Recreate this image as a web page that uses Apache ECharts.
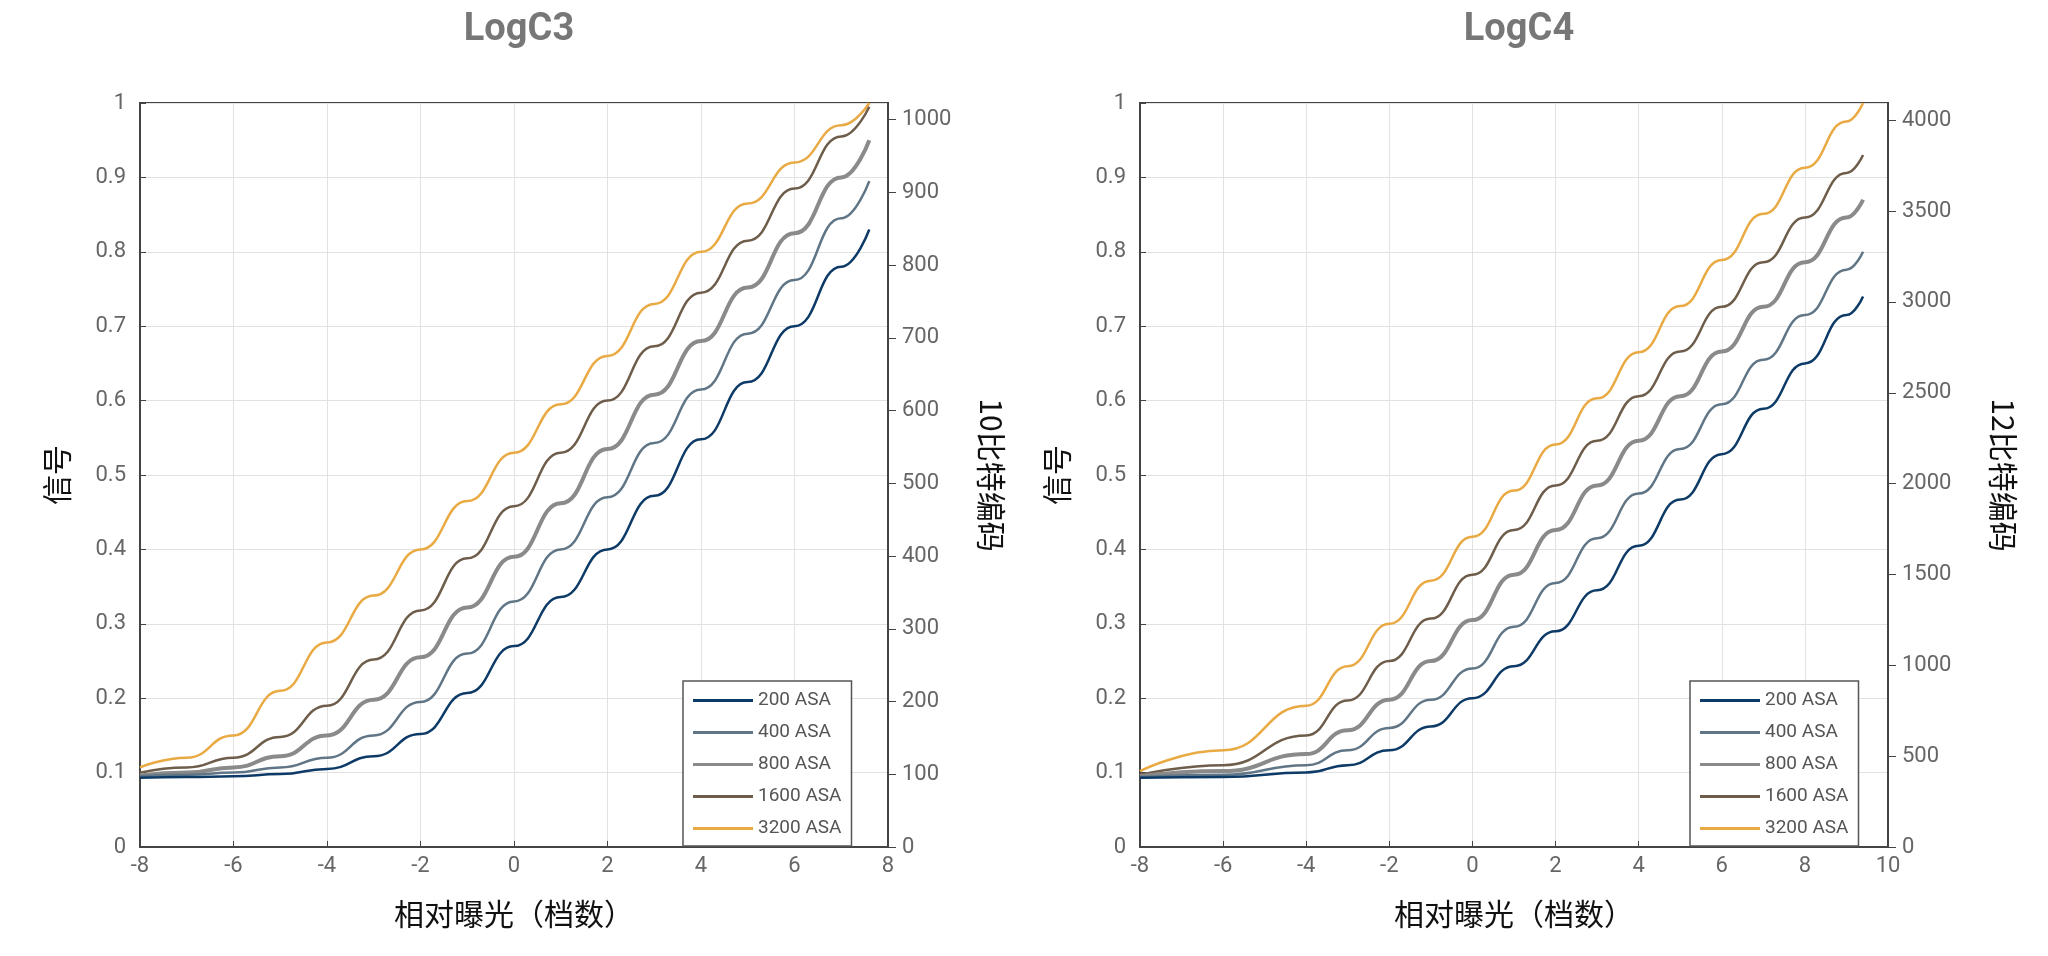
<!DOCTYPE html>
<html>
<head>
<meta charset="utf-8">
<script src="https://cdn.jsdelivr.net/npm/echarts@6/dist/echarts.min.js"></script>
<style>html,body{margin:0;padding:0;background:#fff}#c{width:2048px;height:956px}</style>
</head>
<body>
<div id="c"></div>
<script>
var names = ['200 ASA', '400 ASA', '800 ASA', '1600 ASA', '3200 ASA'];
var colors = ['#0d3a66', '#607686', '#8a8a8a', '#6f5d4b', '#e9aa44'];
var widths = [2.5, 2.5, 4, 2.5, 2.5];

// LogC3: exposure stops vs signal
var c3x = [-8, -7, -6, -5, -4, -3, -2, -1, 0, 1, 2, 3, 4, 5, 6, 7, 7.6];
var c3_200 = [0.093, 0.094, 0.095, 0.098, 0.105, 0.122, 0.152, 0.207, 0.27, 0.336, 0.40, 0.472, 0.548, 0.625, 0.70, 0.78, 0.83];
var c3_400 = [0.095, 0.097, 0.100, 0.107, 0.120, 0.150, 0.195, 0.26, 0.33, 0.40, 0.47, 0.543, 0.615, 0.69, 0.762, 0.845, 0.895];
var c3_800 = [0.096, 0.100, 0.107, 0.122, 0.150, 0.198, 0.255, 0.322, 0.39, 0.462, 0.535, 0.608, 0.68, 0.752, 0.825, 0.90, 0.95];
var c3_1600 = [0.100, 0.107, 0.120, 0.148, 0.190, 0.252, 0.318, 0.388, 0.458, 0.53, 0.60, 0.673, 0.745, 0.815, 0.885, 0.955, 0.995];
var c3_3200 = [0.107, 0.120, 0.150, 0.210, 0.275, 0.338, 0.400, 0.465, 0.530, 0.595, 0.660, 0.730, 0.800, 0.865, 0.920, 0.970, 1.0];

// LogC4
var c4x = [-8, -6, -4, -3, -2, -1, 0, 1, 2, 3, 4, 5, 6, 7, 8, 9, 9.4];
var c4_200 = [0.093, 0.094, 0.100, 0.110, 0.130, 0.162, 0.200, 0.243, 0.290, 0.345, 0.405, 0.467, 0.528, 0.589, 0.65, 0.715, 0.74];
var c4_400 = [0.094, 0.097, 0.110, 0.130, 0.160, 0.198, 0.240, 0.296, 0.355, 0.415, 0.475, 0.535, 0.595, 0.655, 0.715, 0.776, 0.80];
var c4_800 = [0.095, 0.102, 0.125, 0.157, 0.198, 0.250, 0.305, 0.366, 0.426, 0.486, 0.546, 0.606, 0.666, 0.726, 0.786, 0.846, 0.87];
var c4_1600 = [0.097, 0.110, 0.150, 0.197, 0.250, 0.307, 0.366, 0.426, 0.486, 0.546, 0.606, 0.666, 0.726, 0.786, 0.846, 0.906, 0.93];
var c4_3200 = [0.102, 0.130, 0.190, 0.243, 0.300, 0.358, 0.417, 0.479, 0.541, 0.603, 0.665, 0.727, 0.789, 0.851, 0.913, 0.975, 1.0];

var c3Data = [c3_200, c3_400, c3_800, c3_1600, c3_3200];
var c4Data = [c4_200, c4_400, c4_800, c4_1600, c4_3200];

var labelStyle = { color: '#666', fontSize: 22, fontFamily: 'Roboto' };
var nameStyle = { color: '#111', fontSize: 30, fontFamily: 'Noto Sans CJK SC' };

function pairs(xs, ys) {
    var out = [];
    for (var i = 0; i < xs.length; i++) out.push([xs[i], ys[i]]);
    return out;
}

var series = [];
for (var i = 0; i < 5; i++) {
    series.push({ name: names[i], type: 'line', xAxisIndex: 0, yAxisIndex: 0, smooth: true, smoothMonotone: 'x', symbol: 'none',
        lineStyle: { color: colors[i], width: widths[i] }, itemStyle: { color: colors[i] }, data: pairs(c3x, c3Data[i]), z: 10 - i });
    series.push({ name: names[i], type: 'line', xAxisIndex: 1, yAxisIndex: 2, smooth: true, smoothMonotone: 'x', symbol: 'none',
        lineStyle: { color: colors[i], width: widths[i] }, itemStyle: { color: colors[i] }, data: pairs(c4x, c4Data[i]), z: 10 - i });
}

function xAx(idx, max) {
    return { type: 'value', gridIndex: idx, min: -8, max: max, interval: 2,
        name: '相对曝光（档数）', nameLocation: 'middle', nameGap: 52, nameTextStyle: nameStyle,
        axisLine: { show: true, onZero: false, lineStyle: { color: '#444', width: 2 } },
        axisTick: { inside: true, length: 6, lineStyle: { color: '#444' } },
        axisLabel: labelStyle, splitLine: { lineStyle: { color: '#e2e2e2' } } };
}
function yLeft(idx) {
    return { type: 'value', gridIndex: idx, min: 0, max: 1, interval: 0.1, position: 'left',
        name: '信号', nameLocation: 'middle', nameGap: 68, nameRotate: 90, nameTextStyle: nameStyle,
        axisLine: { show: true, onZero: false, lineStyle: { color: '#444', width: 2 } },
        axisTick: { show: true, inside: true, length: 6, lineStyle: { color: '#444' } },
        axisLabel: Object.assign({ margin: 14 }, labelStyle), splitLine: { lineStyle: { color: '#e2e2e2' } } };
}
function yRight(idx, max, interval, nm, gap) {
    return { type: 'value', gridIndex: idx, min: 0, max: max, interval: interval, position: 'right',
        name: nm, nameLocation: 'middle', nameGap: gap, nameRotate: -90, nameTextStyle: nameStyle,
        axisLine: { show: true, onZero: false, lineStyle: { color: '#444', width: 2 } },
        axisTick: { show: true, length: 8, lineStyle: { color: '#444' } },
        axisLabel: Object.assign({ margin: 14, showMaxLabel: false, formatter: function (v) { return String(v); } }, labelStyle),
        splitLine: { show: false } };
}
function legendAt(left) {
    return { data: names, orient: 'vertical', left: left, top: 681, width: 188,
        icon: 'rect', itemWidth: 60, itemHeight: 3, itemGap: 13, align: 'left',
        backgroundColor: '#fff', borderColor: '#555', borderWidth: 1.5, borderRadius: 0, padding: [10, 10, 8, 10],
        textStyle: { color: '#555', fontSize: 19, fontFamily: 'Roboto', width: 92, align: 'right' } };
}

var chart = echarts.init(document.getElementById('c'));
chart.setOption({
    animation: false,
    title: [
        { text: 'LogC3', left: 514, top: 6, textAlign: 'center', textStyle: { color: '#777', fontSize: 38, fontWeight: 'bold', fontFamily: 'Roboto' } },
        { text: 'LogC4', left: 1514, top: 6, textAlign: 'center', textStyle: { color: '#777', fontSize: 38, fontWeight: 'bold', fontFamily: 'Roboto' } }
    ],
    grid: [
        { left: 140, top: 103, width: 748, height: 744, show: true, borderColor: '#444', borderWidth: 2 },
        { left: 1140, top: 103, width: 748, height: 744, show: true, borderColor: '#444', borderWidth: 2 }
    ],
    legend: [legendAt(683), legendAt(1690)],
    xAxis: [xAx(0, 8), xAx(1, 10)],
    yAxis: [yLeft(0), yRight(0, 1023, 100, '10比特编码', 88), yLeft(1), yRight(1, 4095, 500, '12比特编码', 100)],
    series: series
});
</script>
</body>
</html>
